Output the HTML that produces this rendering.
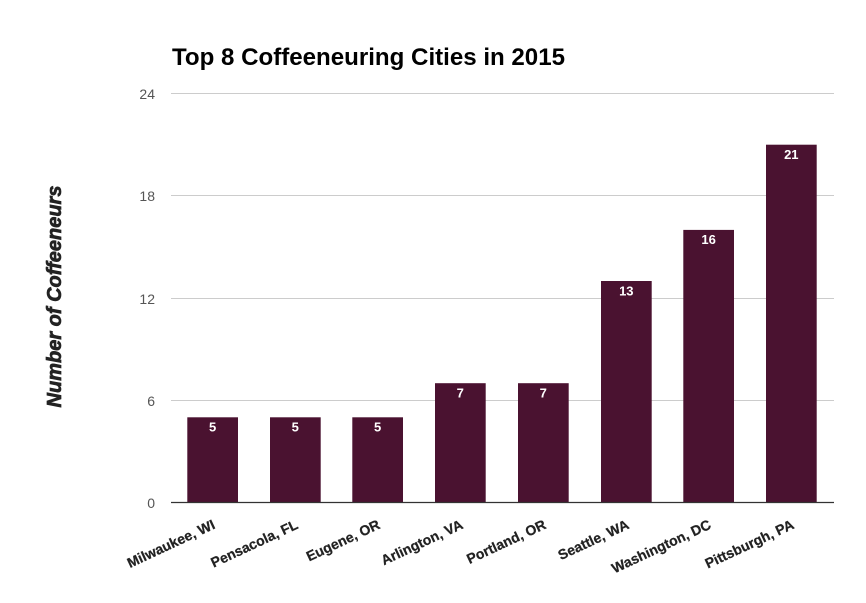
<!DOCTYPE html>
<html>
<head>
<meta charset="utf-8">
<style>
  html,body{margin:0;padding:0;background:#fff;}
  svg{display:block;}
  text{font-family:"Liberation Sans", Arial, sans-serif;}
</style>
</head>
<body>
<svg width="866" height="603" viewBox="0 0 866 603" xmlns="http://www.w3.org/2000/svg">
  <rect x="0" y="0" width="866" height="603" fill="#ffffff"/>
  <!-- Title -->
  <text x="172" y="65" font-size="24" font-weight="bold" fill="#000" textLength="393" lengthAdjust="spacingAndGlyphs">Top 8 Coffeeneuring Cities in 2015</text>

  <!-- Gridlines -->
  <g stroke="#cccccc" stroke-width="1">
    <line x1="171" y1="93.5" x2="834" y2="93.5"/>
    <line x1="171" y1="195.5" x2="834" y2="195.5"/>
    <line x1="171" y1="298.5" x2="834" y2="298.5"/>
    <line x1="171" y1="400.5" x2="834" y2="400.5"/>
  </g>

  <!-- Y labels -->
  <g font-size="14" fill="#555" text-anchor="end">
    <text x="155" y="99">24</text>
    <text x="155" y="201">18</text>
    <text x="155" y="304">12</text>
    <text x="155" y="406">6</text>
    <text x="155" y="508">0</text>
  </g>

  <!-- Y axis title -->
  <text transform="translate(61,296.5) rotate(-90)" text-anchor="middle" font-size="20" font-weight="bold" font-style="italic" fill="#222" stroke="#222" stroke-width="0.7">Number of Coffeeneurs</text>

  <!-- Bars -->
  <g fill="#4a1230">
    <rect x="187.3" y="417.3" width="50.7" height="85.2"/>
    <rect x="270" y="417.3" width="50.7" height="85.2"/>
    <rect x="352.3" y="417.3" width="50.7" height="85.2"/>
    <rect x="435" y="383.2" width="50.7" height="119.3"/>
    <rect x="518" y="383.2" width="50.7" height="119.3"/>
    <rect x="601" y="281" width="50.7" height="221.5"/>
    <rect x="683.3" y="229.9" width="50.7" height="272.6"/>
    <rect x="766" y="144.7" width="50.7" height="357.8"/>
  </g>

  <!-- Bar value labels -->
  <g font-size="13" font-weight="bold" fill="#fff" text-anchor="middle">
    <text x="212.6" y="431.5">5</text>
    <text x="295.3" y="431.5">5</text>
    <text x="377.6" y="431.5">5</text>
    <text x="460.3" y="397.5">7</text>
    <text x="543.3" y="397.5">7</text>
    <text x="626.3" y="295.5">13</text>
    <text x="708.6" y="244">16</text>
    <text x="791.3" y="159">21</text>
  </g>

  <!-- Axis line -->
  <line x1="171" y1="502.5" x2="834" y2="502.5" stroke="#333" stroke-width="1.2"/>

  <!-- X labels -->
  <g font-size="14" font-weight="bold" fill="#222" text-anchor="end" stroke="#222" stroke-width="0.25">
    <text transform="translate(216,528) rotate(-25)">Milwaukee, WI</text>
    <text transform="translate(299,528) rotate(-25)">Pensacola, FL</text>
    <text transform="translate(381,528) rotate(-25)">Eugene, OR</text>
    <text transform="translate(464,528) rotate(-25)">Arlington, VA</text>
    <text transform="translate(547,528) rotate(-25)">Portland, OR</text>
    <text transform="translate(630,528) rotate(-25)">Seattle, WA</text>
    <text transform="translate(712,528) rotate(-25)">Washington, DC</text>
    <text transform="translate(795,528) rotate(-25)">Pittsburgh, PA</text>
  </g>
</svg>
</body>
</html>
